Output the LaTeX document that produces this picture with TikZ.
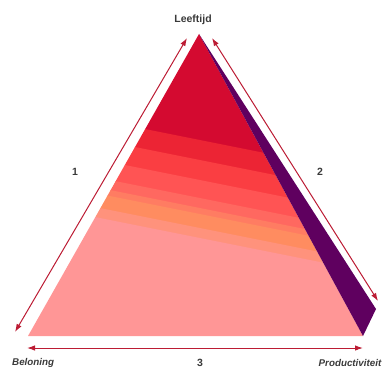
\documentclass[tikz,border=0pt]{standalone}
\usepackage{fontspec}
\setmainfont{Liberation Sans}
\usetikzlibrary{arrows.meta}
\definecolor{crim}{RGB}{212,10,48}
\definecolor{redA}{RGB}{236,36,52}
\definecolor{redB}{RGB}{250,62,66}
\definecolor{redC}{RGB}{255,84,84}
\definecolor{redD}{RGB}{255,104,96}
\definecolor{orA}{RGB}{255,124,98}
\definecolor{orB}{RGB}{255,140,96}
\definecolor{pkA}{RGB}{255,146,124}
\definecolor{pk}{RGB}{255,150,150}
\definecolor{purp}{RGB}{95,0,95}
\definecolor{arr}{RGB}{188,28,52}
\definecolor{txt}{RGB}{58,58,58}
\newcommand\band[3]{\fill[#3] (0,{#1-40}) -- (382,{#1+36.4}) -- (382,{#2+36.4}) -- (0,{#2-40}) -- cycle;}
\begin{document}
\begin{tikzpicture}[x=1pt,y=-1pt,
  dbl/.style={arr,line width=1pt,{Latex[length=8pt,width=5.5pt]}-{Latex[length=8pt,width=5.5pt]}},
  lab/.style={text=txt,font=\fontsize{10.5}{12}\selectfont\bfseries,inner sep=0pt},
  ilab/.style={lab,font=\fontsize{9.8}{12}\selectfont\bfseries\itshape}]
\useasboundingbox (0,0) rectangle (382,369);
% triangle corners
\coordinate (A) at (199,34);
\coordinate (B) at (28,336);
\coordinate (C) at (363,336);
\coordinate (D) at (376,309);
\begin{scope}
\clip (A) -- (B) -- (C) -- cycle;
\band{0}{140.5}{crim}
\band{140}{160.5}{redA}
\band{160}{180.5}{redB}
\band{180}{198.5}{redC}
\band{198}{208.5}{redD}
\band{208}{214.5}{orA}
\band{214}{228.5}{orB}
\band{228}{238.5}{pkA}
\band{238}{420}{pk}
\end{scope}
\fill[purp] (A) -- (D) -- (C) -- cycle;
% arrows
\coordinate (l1) at (187,38);
\coordinate (l2) at (15,332);
\coordinate (r1) at (212,38);
\coordinate (r2) at (378,301);
\coordinate (b1) at (27,348);
\coordinate (b2) at (363,348);
\draw[dbl] (l1) -- (l2);
\draw[dbl] (r1) -- (r2);
\draw[dbl] (b1) -- (b2);
% labels
\node[lab,anchor=base] (lt) at (193,23) {Leeftijd};
\node[ilab,anchor=base west] (bl) at (12,365.5) {Beloning};
\node[ilab,anchor=base east] (pr) at (381.5,366) {Productiviteit};
\node[lab,anchor=center] (n1) at (75,172) {1};
\node[lab,anchor=center] (n2) at (320,172) {2};
\node[lab,anchor=base] (n3) at (200,366.5) {3};
\end{tikzpicture}
\end{document}
